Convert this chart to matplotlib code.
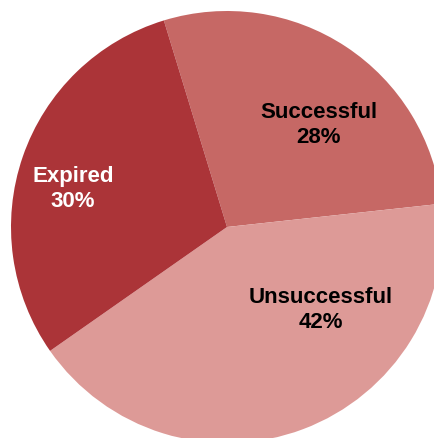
import matplotlib.pyplot as plt

labels = ["Successful", "Unsuccessful", "Expired"]
shares = [28, 42, 30]
colors = ["#C66865", "#DD9A97", "#AB3438"]

# label anchor points, in pixels from the top-left corner
label_xy = [(319, 125), (321, 310), (73, 189)]

W, H = 435, 438
fig = plt.figure(figsize=(W / 100, H / 100), dpi=100)
ax = fig.add_axes([0, 0, 1, 1])

cx, cy, r = 227, 227, 216
ax.pie(shares, colors=colors, startangle=107, counterclock=False,
       center=(cx, H - cy), radius=r, frame=False)
ax.set_xlim(0, W)
ax.set_ylim(0, H)
ax.set_aspect("auto")
ax.axis("off")

for lab, val, (x, y) in zip(labels, shares, label_xy):
    ax.text(x, H - y, f"{lab}\n{val}%", ha="center", va="center",
            color="#000000" if lab != "Expired" else "white",
            fontsize=16, fontweight="bold", family="Liberation Sans",
            linespacing=1.3)

fig.savefig("out.png", dpi=100)
